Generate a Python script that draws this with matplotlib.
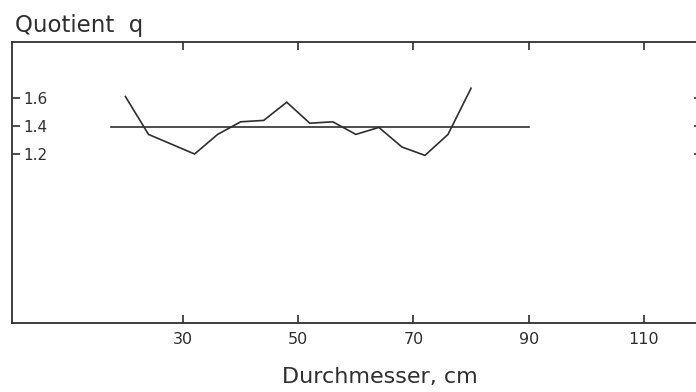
import matplotlib
matplotlib.use("Agg")
import matplotlib.pyplot as plt

# Data
diameter_cm = [20, 24, 28, 32, 36, 40, 44, 48, 52, 56, 60, 64, 68, 72, 76, 80]
quotient_q = [1.61, 1.34, 1.27, 1.20, 1.34, 1.43, 1.44, 1.57, 1.42, 1.43,
              1.34, 1.39, 1.25, 1.19, 1.34, 1.67]
mean_x = [17.5, 90]
mean_q = [1.39, 1.39]

x_ticks = [30, 50, 70, 90, 110]
x_ticklabels = ["30", "50", "70", "90", "110"]
y_ticks = [1.2, 1.4, 1.6]
y_ticklabels = ["1.2", "1.4", "1.6"]

ink = "#2e2e2e"
W, H = 696, 392
fig = plt.figure(figsize=(W / 100, H / 100), dpi=100)
left_px, right_px, top_px, bottom_px = 12, 702, 42, 323
ax = fig.add_axes([left_px / W, (H - bottom_px) / H,
                   (right_px - left_px) / W, (bottom_px - top_px) / H])

ax.plot(diameter_cm, quotient_q, color=ink, lw=1.2, solid_joinstyle="miter")
ax.plot(mean_x, mean_q, color=ink, lw=1.2)

ax.set_xlim(0.3, 120.1)
ax.set_ylim(-0.007, 2.0)

for s in ax.spines.values():
    s.set_color(ink)
    s.set_linewidth(1.3)

ax.set_xticks(x_ticks, labels=x_ticklabels)
ax.set_yticks(y_ticks, labels=y_ticklabels)
ax.tick_params(axis="x", direction="in", length=5.8, width=1.2, color=ink,
               labelsize=11.5, labelcolor=ink, pad=6.5, top=True)
ax.tick_params(axis="y", direction="in", length=5.5, width=1.2, color=ink,
               labelsize=11, labelcolor=ink, pad=-8, right=True)
for lbl in ax.get_yticklabels():
    lbl.set_horizontalalignment("left")

ax.set_xlabel("Durchmesser, cm", fontsize=16, color=ink)
ax.xaxis.set_label_coords((380 - left_px) / (right_px - left_px), -0.155)

fig.text(15 / W, 1 - 32 / H, "Quotient  q", fontsize=16.5, color=ink,
         ha="left", va="baseline")

fig.savefig("out.png", dpi=100, facecolor="white")
